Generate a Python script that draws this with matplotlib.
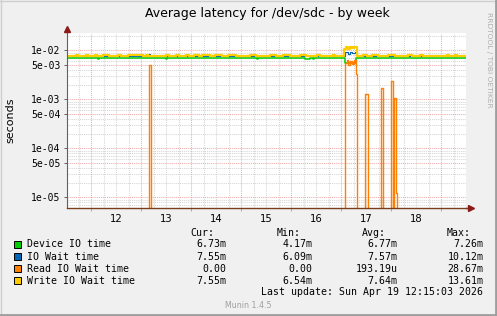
import numpy as np
import matplotlib
matplotlib.use('Agg')
import matplotlib.pyplot as plt
from matplotlib.lines import Line2D
from matplotlib.patches import Rectangle
from matplotlib.ticker import NullLocator

# time in days (label "12" sits at noon of day 12)
day_edges = [12, 13, 14, 15, 16, 17, 18, 19]
day_labels = ['12', '13', '14', '15', '16', '17', '18']
day_label_pos = [12.5, 13.5, 14.5, 15.5, 16.5, 17.5, 18.5]

ytick_vals = [1e-5, 5e-5, 1e-4, 5e-4, 1e-3, 5e-3, 1e-2]
ytick_labels = ['1e-05', '5e-05', '1e-04', '5e-04', '1e-03', '5e-03', '1e-02']

# Device IO time
dev_t = [11.52, 12.13, 12.16, 13.49, 13.52, 15.31, 15.34, 16.27, 16.37, 16.43, 16.46, 17.08, 17.31, 19.50]
dev_v = [6.9e-3, 6.5e-3, 6.9e-3, 6.5e-3, 6.9e-3, 6.5e-3, 6.9e-3, 6.5e-3, 6.9e-3, 6.5e-3, 6.9e-3, 5.5e-3, 6.9e-3, 6.9e-3]

# IO Wait time
iow_t = [11.52, 13.16, 13.18, 17.08, 17.13, 17.17, 17.22, 17.27, 17.32, 19.50]
iow_v = [7.8e-3, 8.5e-3, 7.8e-3, 9.2e-3, 8.4e-3, 9.3e-3, 8.6e-3, 9.4e-3, 7.8e-3, 7.8e-3]

# Read IO Wait time
read_t = [11.52, 13.166, 13.206, 17.08, 17.12, 17.14, 17.18, 17.22, 17.26, 17.30, 17.33,
          17.486, 17.53, 17.795, 17.835, 18.00, 18.04, 18.054, 18.094, 18.114, 19.50]
read_v = [0, 5.1e-3, 0, 5.6e-3, 6.3e-3, 5.0e-3, 6.0e-3, 5.2e-3, 6.3e-3, 3.3e-3, 0,
          1.3e-3, 0, 1.71e-3, 0, 2.41e-3, 0, 1.07e-3, 1.2e-5, 0, 0]

# Write IO Wait time
write_t = [11.52, 11.70, 11.74, 11.90, 11.94, 12.08, 12.12, 12.24, 12.36, 12.54, 12.60,
           12.74, 13.04, 13.10, 13.14, 13.50, 13.56, 13.70, 13.76, 13.90, 13.96,
           14.06, 14.16, 14.22, 14.38, 14.48, 14.62, 14.74, 14.90, 15.18, 15.30,
           15.58, 15.70, 15.84, 15.98, 16.18, 16.30, 16.52, 16.58, 16.84, 16.88,
           17.06, 17.10, 17.14, 17.18, 17.22, 17.26, 17.32,
           17.44, 17.52, 17.62, 17.74, 17.94, 18.08, 18.34, 18.42, 18.58, 18.64,
           19.12, 19.16, 19.28, 19.32, 19.50]
write_v = [7.6e-3, 7.9e-3, 7.6e-3, 7.9e-3, 7.6e-3, 7.9e-3, 7.6e-3, 7.9e-3, 7.6e-3, 7.9e-3, 7.6e-3,
           7.9e-3, 7.6e-3, 7.9e-3, 7.6e-3, 7.9e-3, 7.6e-3, 7.9e-3, 7.6e-3, 7.9e-3, 7.6e-3,
           7.9e-3, 7.6e-3, 7.9e-3, 7.6e-3, 7.9e-3, 7.6e-3, 7.9e-3, 7.6e-3, 7.9e-3, 7.6e-3,
           7.9e-3, 7.6e-3, 7.9e-3, 7.6e-3, 7.9e-3, 7.6e-3, 7.9e-3, 7.6e-3, 7.9e-3, 7.6e-3,
           1.07e-2, 1.15e-2, 1.07e-2, 1.15e-2, 1.1e-2, 1.15e-2, 7.6e-3,
           7.9e-3, 7.6e-3, 7.9e-3, 7.6e-3, 7.9e-3, 7.6e-3, 7.9e-3, 7.6e-3, 7.9e-3, 7.6e-3,
           7.9e-3, 7.6e-3, 7.9e-3, 7.6e-3, 7.6e-3]

names = ['Device IO time', 'IO Wait time', 'Read IO Wait time', 'Write IO Wait time']
colors = ['#00CC00', '#0066B3', '#FF8000', '#FFCC00']
cur = ['6.73m', '7.55m', '0.00', '7.55m']
mins = ['4.17m', '6.09m', '0.00', '6.54m']
avgs = ['6.77m', '7.57m', '193.19u', '7.64m']
maxs = ['7.26m', '10.12m', '28.67m', '13.61m']

W, H = 497, 316
def fx(x): return x / W
def fy(y): return 1 - y / H

fig = plt.figure(figsize=(W / 100, H / 100), dpi=100, facecolor='#f0f0f0')
ax = fig.add_axes([fx(67), fy(208), (466 - 67) / W, (208 - 33) / H])
ax.set_facecolor('white')
ax.set_yscale('log')
ax.set_xlim(11.52, 19.5)
ax.set_ylim(6.05e-6, 2.25e-2)

grey = '#d6d6d6'
red = '#f2aaaa'
dot = (0, (1, 1))
for q in np.arange(11.75, 19.5, 0.25):
    if q not in day_edges:
        ax.axvline(q, color=grey, ls=dot, lw=0.75, zorder=0.5)
for d in day_edges:
    ax.axvline(d, color=red, ls=dot, lw=0.75, zorder=0.6)
for e in range(-6, -1):
    for k in range(1, 10):
        val = k * 10.0 ** e
        if 6.05e-6 < val < 2.25e-2:
            ax.axhline(val, color=red if k in (1, 5) else grey, ls=dot, lw=0.75,
                       zorder=0.6 if k in (1, 5) else 0.5)

series = [(dev_t, dev_v), (iow_t, iow_v), (read_t, read_v), (write_t, write_v)]
widths = [1.1, 0.8, 1.0, 1.6]
for (t, v), c, w in zip(series, colors, widths):
    ax.step(t, v, where='post', color=c, lw=w, zorder=2)

for s in ['top', 'right']:
    ax.spines[s].set_visible(False)
ax.spines['left'].set_color('#606060')
ax.spines['left'].set_linewidth(0.8)
ax.spines['bottom'].set_color('#7a3d1a')
ax.spines['bottom'].set_linewidth(1.0)
ax.spines['bottom'].set_zorder(3)
ax.plot([0, 0], [1, 1.02], transform=ax.transAxes, color='#606060', lw=0.8, clip_on=False)
ax.plot([1, 1.01], [0, 0], transform=ax.transAxes, color='#7a3d1a', lw=1.0, clip_on=False)
ax.plot([0], [1.025], marker='^', ms=4.5, color='#8b1a1a', transform=ax.transAxes, clip_on=False)
ax.plot([1.012], [0], marker='>', ms=4.5, color='#8b1a1a', transform=ax.transAxes, clip_on=False)

ax.set_yticks(ytick_vals)
ax.set_yticklabels(ytick_labels, family='DejaVu Sans Mono', fontsize=7)
ax.yaxis.set_minor_locator(NullLocator())
ax.tick_params(axis='y', which='major', length=2.2, width=0.7, color='#606060', pad=2.6)
ax.set_xticks(day_label_pos)
ax.set_xticklabels(day_labels, fontsize=7.2)
ax.set_xticks(day_edges, minor=True)
ax.tick_params(axis='x', which='major', length=0, pad=4.2)
ax.tick_params(axis='x', which='minor', length=2.5, width=0.7, color='#e89090')

fig.text(fx(267), fy(13), 'Average latency for /dev/sdc - by week', ha='center', va='center', fontsize=9)
fig.text(fx(10.7), fy(120), 'seconds', rotation=90, ha='center', va='center', fontsize=8)
fig.text(fx(489), fy(12), 'RRDTOOL / TOBI OETIKER', rotation=270, ha='center', va='top',
         fontsize=5.4, color='#b0b0b0')

mono = 'DejaVu Sans Mono'
fs = 7.1
for lx, h in zip([190.7, 276.7, 361.7, 446.7], ['Cur:', 'Min:', 'Avg:', 'Max:']):
    fig.text(fx(lx), fy(232.7), h, ha='left', va='center', family=mono, fontsize=fs)
rows = [244.3, 256.7, 268.7, 280.7]
for i, y in enumerate(rows):
    fig.add_artist(Rectangle((fx(13.5), fy(y + 3.6)), 7 / W, 7 / H, transform=fig.transFigure,
                             facecolor=colors[i], edgecolor='black', lw=0.7))
    fig.text(fx(26.7), fy(y), names[i], ha='left', va='center', family=mono, fontsize=fs)
    for rx, col in zip([226.7, 312.3, 397.3, 483.3], [cur, mins, avgs, maxs]):
        fig.text(fx(rx), fy(y), col[i], ha='right', va='center', family=mono, fontsize=fs)
fig.text(fx(483.3), fy(292.3), 'Last update: Sun Apr 19 12:15:03 2026', ha='right', va='center',
         family=mono, fontsize=fs)
fig.text(fx(248.3), fy(305.3), 'Munin 1.4.5', ha='center', va='center', fontsize=5.7, color='#a0a0a0')

# 3d frame
fig.add_artist(Line2D([0, 1], [fy(0.5), fy(0.5)], transform=fig.transFigure, color='#cfcfcf', lw=1))
fig.add_artist(Line2D([fx(0.5), fx(0.5)], [0, 1], transform=fig.transFigure, color='#cfcfcf', lw=1))
fig.add_artist(Line2D([0, 1], [fy(315), fy(315)], transform=fig.transFigure, color='#9e9e9e', lw=2))
fig.add_artist(Line2D([fx(496), fx(496)], [0, 1], transform=fig.transFigure, color='#9e9e9e', lw=2))

fig.savefig('out.png', dpi=100, facecolor=fig.get_facecolor())
